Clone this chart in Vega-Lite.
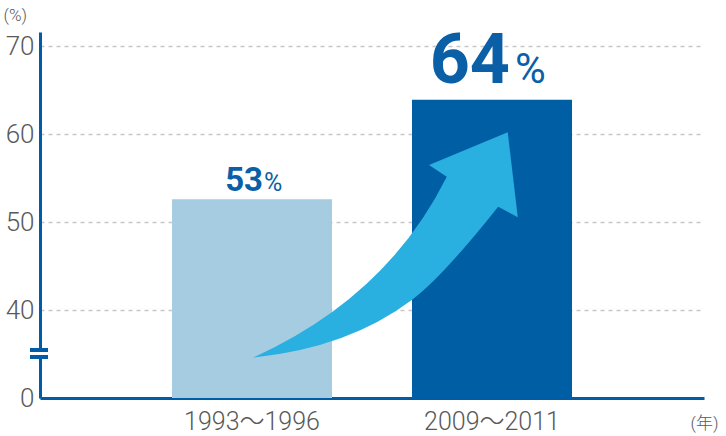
{
  "$schema": "https://vega.github.io/schema/vega-lite/v6.json",
  "width": 664,
  "height": 366,
  "autosize": "none",
  "padding": {"left": 40, "top": 32, "right": 22, "bottom": 38},
  "background": "white",
  "config": {"view": {"stroke": null}},
  "data": {"values": [
    {"period": "1993〜1996", "value": 52.6},
    {"period": "2009〜2011", "value": 63.9}
  ]},
  "encoding": {
    "x": {"field": "period", "type": "nominal", "sort": null,
      "scale": {"paddingInner": 0.3333, "paddingOuter": 0.55},
      "axis": {"title": "(年)", "titleAngle": 0, "titleX": 650, "titleY": 30, "titleAlign": "left", "titleBaseline": "alphabetic",
        "titleFont": "Roboto, Noto Sans CJK JP", "titleFontWeight": 300, "titleFontSize": 17, "titleColor": "#595959",
        "labelAngle": 0, "labelFont": "Roboto, Noto Sans CJK JP", "labelFontWeight": 300, "labelFontSize": 25, "labelColor": "#595959",
        "labelPadding": 11, "ticks": false, "domainColor": "#005CA6", "domainWidth": 3, "grid": false}},
    "y": {"field": "value", "type": "quantitative",
      "scale": {"domain": [30, 71.6], "zero": false, "nice": false, "clamp": true},
      "axis": {"values": [30, 40, 50, 60, 70], "labelExpr": "datum.value == 30 ? '0' : datum.label",
        "title": "(%)", "titleAngle": 0, "titleX": -37, "titleY": -12, "titleAlign": "left", "titleBaseline": "alphabetic",
        "titleFont": "Roboto", "titleFontWeight": 300, "titleFontSize": 17, "titleColor": "#595959",
        "labelFont": "Roboto", "labelFontWeight": 300, "labelFontSize": 26, "labelColor": "#595959", "labelPadding": 6,
        "ticks": false, "domainColor": "#005CA6", "domainWidth": 3,
        "grid": true, "gridColor": "#c8c8c8", "gridDash": [4, 4], "gridWidth": 1.5}}
  },
  "layer": [
    {"mark": {"type": "bar"},
      "encoding": {"color": {"field": "period", "type": "nominal", "legend": null,
        "scale": {"domain": ["1993〜1996", "2009〜2011"], "range": ["#A6CCE1", "#005EA5"]}}}},
    {"mark": {"type": "point", "filled": true, "opacity": 1, "color": "#29AFE0", "size": 280900, "strokeWidth": 0,
        "shape": "M0.005,0.345 Q0.509,0.117 0.735,-0.337 L0.668,-0.381 L0.965,-0.505 L1.003,-0.184 L0.929,-0.224 Q0.716,0.044 0.603,0.128 Q0.362,0.309 0.005,0.345 Z"},
      "encoding": {"x": {"datum": "1993〜1996"}, "y": {"datum": 45}},
      "transform": [{"filter": "datum.period == '1993〜1996'"}]},
    {"mark": {"type": "rect", "color": "#005CA6"},
      "encoding": {"x": {"value": -10}, "x2": {"value": 8}, "y": {"datum": 34.43}, "y2": {"datum": 35.68}},
      "transform": [{"filter": "datum.period == '1993〜1996'"}]},
    {"mark": {"type": "rect", "color": "white"},
      "encoding": {"x": {"value": -12}, "x2": {"value": 10}, "y": {"datum": 34.89}, "y2": {"datum": 35.23}},
      "transform": [{"filter": "datum.period == '1993〜1996'"}]},
    {"transform": [{"filter": "datum.period == '1993〜1996'"}],
      "mark": {"type": "text", "align": "right", "baseline": "alphabetic", "dx": 11, "dy": -8, "fontSize": 33, "fontWeight": "bold",
        "font": "Roboto", "color": "#0A5FA7"},
      "encoding": {"text": {"field": "value", "type": "quantitative", "format": ".0f"}}},
    {"transform": [{"filter": "datum.period == '1993〜1996'"}],
      "mark": {"type": "text", "align": "left", "baseline": "alphabetic", "dx": 12, "dy": -8, "fontSize": 25,
        "font": "Roboto", "color": "#0A5FA7", "text": "%"}},
    {"transform": [{"filter": "datum.period == '2009〜2011'"}],
      "mark": {"type": "text", "align": "right", "baseline": "alphabetic", "dx": 18, "dy": -17, "fontSize": 70, "fontWeight": "bold",
        "font": "Roboto", "color": "#0A5FA7"},
      "encoding": {"text": {"field": "value", "type": "quantitative", "format": ".0f"}}},
    {"transform": [{"filter": "datum.period == '2009〜2011'"}],
      "mark": {"type": "text", "align": "left", "baseline": "alphabetic", "dx": 23, "dy": -17, "fontSize": 42,
        "font": "Roboto", "color": "#0A5FA7", "text": "%"}}
  ]
}
